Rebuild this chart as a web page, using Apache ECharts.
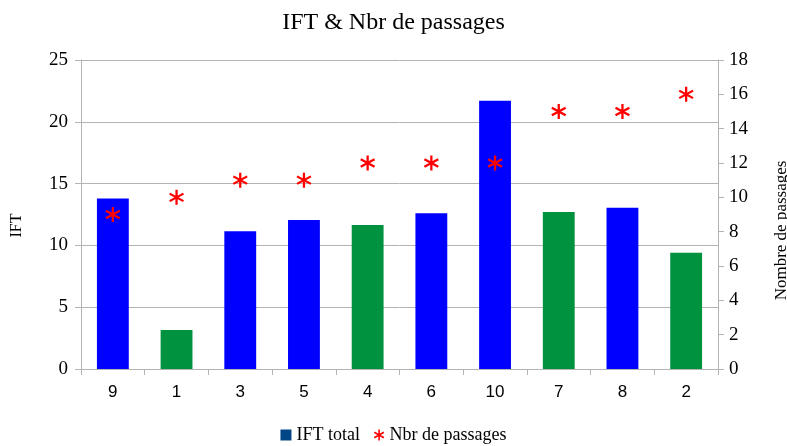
<!DOCTYPE html>
<html>
<head>
<meta charset="utf-8">
<script src="https://cdn.jsdelivr.net/npm/echarts@6/dist/echarts.min.js"></script>
<style>
  html, body { margin: 0; padding: 0; background: #fff; }
  #chart { width: 787px; height: 446px; }
</style>
</head>
<body>
<div id="chart"></div>
<script>
// categories and values
var categories = ['9', '1', '3', '5', '4', '6', '10', '7', '8', '2'];
var iftTotal = [13.8, 3.15, 11.15, 12.05, 11.65, 12.6, 21.7, 12.7, 13.05, 9.4];
var nbrPassages = [9, 10, 11, 11, 12, 12, 12, 15, 15, 16];
// which bars are green
var isGreen = [false, true, false, false, true, false, false, true, false, true];

var BLUE = '#0000ff';
var GREEN = '#00923f';
var SERIF = '"Liberation Serif", "DejaVu Serif", serif';
var SANS = '"Liberation Sans", Arial, sans-serif';

// asterisk built from three bars
var ASTERISK = 'path://M-1,-7L1,-7L1,7L-1,7Z' +
  'M5.562,-4.366L6.562,-2.634L-5.562,4.366L-6.562,2.634Z' +
  'M-6.562,-2.634L-5.562,-4.366L6.562,2.634L5.562,4.366Z';

var barData = [];
for (var i = 0; i < iftTotal.length; i++) {
  barData.push({
    value: iftTotal[i],
    itemStyle: { color: isGreen[i] ? GREEN : BLUE }
  });
}

var myChart = echarts.init(document.getElementById('chart'));
var option = {
  animation: false,
  title: {
    text: 'IFT & Nbr de passages',
    left: 'center',
    top: 6,
    textStyle: { fontFamily: SERIF, fontSize: 24, fontWeight: 'normal', color: '#000' }
  },
  legend: {
    bottom: -3,
    left: 'center',
    itemWidth: 11,
    itemHeight: 11,
    itemGap: 14,
    textStyle: { fontFamily: SERIF, fontSize: 18, color: '#000' },
    data: [
      { name: 'IFT total', icon: 'rect' },
      { name: 'Nbr de passages', icon: ASTERISK }
    ]
  },
  grid: { left: 81, right: 69, top: 60, bottom: 77, outerBoundsMode: 'none' },
  xAxis: {
    type: 'category',
    data: categories,
    axisLine: { lineStyle: { color: '#b3b3b3', width: 1 } },
    axisTick: { show: true, length: 6, lineStyle: { color: '#b3b3b3' } },
    axisLabel: { fontFamily: SANS, fontSize: 17, color: '#000', margin: 15 }
  },
  yAxis: [
    {
      type: 'value',
      min: 0, max: 25, interval: 5,
      name: 'IFT',
      nameLocation: 'middle',
      nameRotate: 90,
      nameGap: 56,
      nameTextStyle: { fontFamily: SERIF, fontSize: 16, color: '#000', padding: [0, 22, 0, 0] },
      axisLine: { show: true, lineStyle: { color: '#b3b3b3' } },
      axisTick: { show: true, length: 6, lineStyle: { color: '#b3b3b3' } },
      axisLabel: { fontFamily: SERIF, fontSize: 19, color: '#000', margin: 13 },
      splitLine: { show: true, lineStyle: { color: '#b3b3b3' } }
    },
    {
      type: 'value',
      position: 'right',
      min: 0, max: 18, interval: 2,
      name: 'Nombre de passages',
      nameLocation: 'middle',
      nameRotate: 90,
      nameGap: 55,
      nameTextStyle: { fontFamily: SERIF, fontSize: 17, color: '#000', padding: [0, 32, 0, 0] },
      axisLine: { show: true, lineStyle: { color: '#b3b3b3' } },
      axisTick: { show: true, length: 6, lineStyle: { color: '#b3b3b3' } },
      axisLabel: { fontFamily: SERIF, fontSize: 19, color: '#000', margin: 11 },
      splitLine: { show: false }
    }
  ],
  series: [
    {
      name: 'IFT total',
      type: 'bar',
      barWidth: '50%',
      itemStyle: { color: '#004586' },
      data: barData
    },
    {
      name: 'Nbr de passages',
      type: 'line',
      yAxisIndex: 1,
      lineStyle: { width: 0, opacity: 0 },
      symbol: ASTERISK,
      symbolSize: 15,
      itemStyle: { color: '#ff0000' },
      data: nbrPassages
    }
  ]
};
myChart.setOption(option);
</script>
</body>
</html>
